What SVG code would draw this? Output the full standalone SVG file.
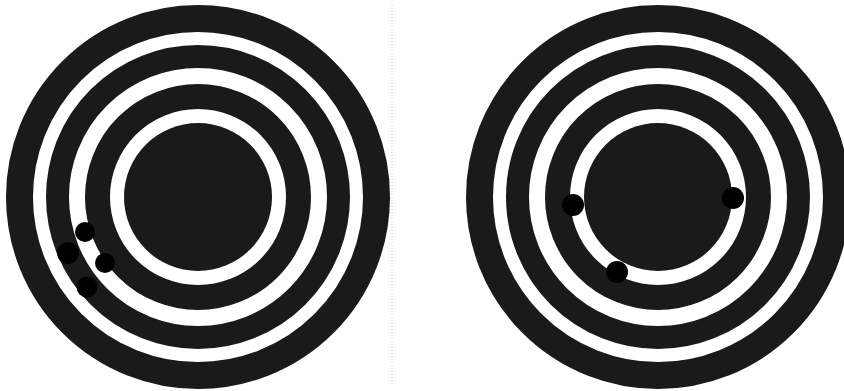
<svg xmlns="http://www.w3.org/2000/svg" width="844" height="391" viewBox="0 0 844 391">
  <style>
    .ring { fill: none; stroke: #1a1a1a; }
    .r1 { stroke-width: 27; }
    .r2 { stroke-width: 23; }
    .r3 { stroke-width: 25; }
    .disk { fill: #1a1a1a; }
    .dot { fill: #000; }
    .divider { stroke: #c4c4c4; stroke-width: 1; stroke-dasharray: 1 2; }
  </style>
  <rect width="844" height="391" fill="#fff"/>
  <line class="divider" x1="392" y1="5" x2="392" y2="386"/>

  <g id="target-left">
    <circle class="ring r1" cx="198" cy="197" r="178.5"/>
    <circle class="ring r2" cx="198" cy="197" r="140.5"/>
    <circle class="ring r3" cx="198" cy="197" r="100.5"/>
    <circle class="disk" cx="198" cy="197" r="74"/>
    <circle class="dot" cx="85" cy="232" r="10"/>
    <circle class="dot" cx="68" cy="253" r="11"/>
    <circle class="dot" cx="105" cy="263" r="10"/>
    <circle class="dot" cx="87" cy="287" r="10.5"/>
  </g>

  <g id="target-right">
    <circle class="ring r1" cx="658" cy="197" r="178.5"/>
    <circle class="ring r2" cx="658" cy="197" r="140.5"/>
    <circle class="ring r3" cx="658" cy="197" r="100.5"/>
    <circle class="disk" cx="658" cy="197" r="74"/>
    <circle class="dot" cx="573" cy="205" r="11"/>
    <circle class="dot" cx="733" cy="198" r="11"/>
    <circle class="dot" cx="617" cy="272" r="11"/>
  </g>
</svg>
